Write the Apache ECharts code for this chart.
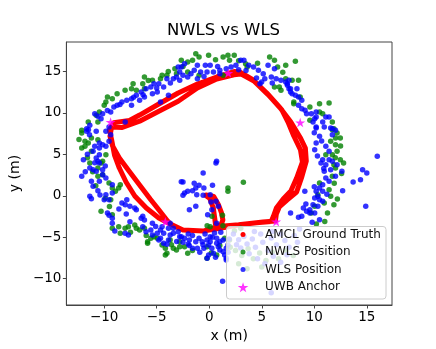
<!DOCTYPE html>
<html><head><meta charset="utf-8">
<script src="https://cdn.jsdelivr.net/npm/echarts@6/dist/echarts.min.js"></script>
<style>html,body{margin:0;padding:0;background:#fff}#c{width:436px;height:349px}</style>
</head><body><div id="c"></div>
<script>
const titleText = 'NWLS vs WLS';
const seriesNames = ['AMCL Ground Truth', 'NWLS Position', 'WLS Position', 'UWB Anchor'];
const xTicks = [-10, -5, 0, 5, 10, 15];
const yTicks = [-10, -5, 0, 5, 10, 15];

const gtPath = [
[-0.30,0.10],[0.43,-0.08],[0.89,-1.11],[1.17,-2.07],[1.30,-2.92],[1.07,-3.64],[-0.58,-4.25],[-2.5,-4.12],[-3.70,-3.40],
[-4.80,-2.68],[-5.99,-1.47],[-7.09,-0.02],[-7.92,1.66],[-8.56,3.35],[-9.02,4.92],[-9.29,6.73],[-9.5,7.9],[-9.1,8.8],
[-7.6,9.1],[-6.63,9.74],[-4.80,11.07],[-2.96,12.40],[-1.13,13.48],[0.71,14.33],[2.36,14.99],[2.9,14.93],[4.19,13.97],[5.48,12.40],[6.76,10.59],
[7.77,8.90],[8.69,6.97],[9.15,5.76],[9.24,4.20],[8.78,2.15],[8.32,0.46],[7.40,-0.51],[6.67,-1.35],[6.39,-2.19],[6.30,-3.04],
[5.11,-3.16],[3.46,-3.40],[2.17,-3.64],[1.16,-3.88],[-0.58,-4.25],[-2.5,-4.12],[-3.70,-3.40],
[-3.97,-3.04],[-4.71,-1.83],[-5.62,-0.39],[-6.63,1.30],[-7.64,2.99],[-8.56,4.56],[-9.20,6.0],[-9.45,7.2],[-9.3,8.3],
[-8.28,8.25],[-6.63,9.0],[-4.80,10.2],[-2.96,11.4],[-1.13,13.0],[0.71,14.09],[2.36,14.6],[3.0,14.7],[4.3,13.8],[5.6,12.2],[6.9,10.4],
[7.50,8.90],[8.05,7.21],[8.69,5.52],[8.87,4.08],[8.32,2.15],[7.77,0.58],[7.04,-0.39],[6.39,-1.47],[6.12,-2.44],[5.9,-3.1],
[4.5,-3.25],[2.8,-3.5],[1.4,-3.65],[0.6,-3.5],[0.52,-2.68],[0.39,-1.47],[0.06,-0.33],[-0.3,0.0]
];

const nwlsPoints = [
[-3.27,15.33],[-3.12,14.73],[-4.49,14.53],[-4.64,14.13],[-5.41,13.93],[-6.17,14.33],[-6.33,13.52],[-7.25,13.52],[-7.4,12.92],[-8.01,12.72],[-8.77,12.32],[-9.69,11.92],[-9.84,11.31],[-10.0,10.92],[-9.23,11.71],[-10.46,10.11],[-10.76,9.71],[-10.6,8.9],[-11.52,8.9],[-12.14,7.9],[-6.94,12.72],[-6.17,12.92],[-4.03,14.53],
[-5.8,13.9],[-3.9,15.0],[-2.5,15.6],[0.6,16.4],[2.8,16.3],[4.6,16.0],[7.0,14.9],
[-1.28,17.14],[-0.06,16.94],[-0.97,16.74],[-1.59,16.34],[-2.05,16.14],[-2.66,16.34],[1.32,16.74],[1.78,16.94],[2.38,16.94],[1.93,16.34],[3.46,15.94],[3.61,15.54],[5.75,16.74],[6.21,16.34],[6.51,15.54],[7.28,15.74],[6.67,13.12],[6.83,12.72],[6.21,13.12],[8.05,11.31],[-2.05,14.93],[-0.97,14.53],[1.32,14.53],
[8.2,16.22],[7.28,14.13],[7.89,13.93],[8.5,13.93],[8.66,11.92],[8.05,11.11],[9.58,10.71],[10.5,11.11],[11.41,11.18],[10.5,10.11],[10.8,9.9],[11.72,8.9],[11.87,8.09],[9.58,9.11],
[11.72,7.97],[12.17,7.57],[12.02,6.97],[12.48,6.97],[12.02,6.17],[12.17,5.37],[11.72,4.96],[12.48,4.35],[12.79,3.96],[11.87,3.75],[12.02,3.35],[11.72,2.35],[11.41,0.74],[11.56,-0.06],[10.95,-0.87],[11.87,-1.07],[11.26,-2.08],[10.5,1.54],[10.34,0.13],[10.04,-1.27],[9.72,-2.08],[11.1,4.96],[11.56,6.57],[11.0,-3.1],[10.2,-3.4],
[12.5,6.0],[12.0,4.6],[12.6,2.7],[11.9,1.5],[12.2,-0.4],
[-12.14,7.57],[-11.83,6.57],[-11.52,6.37],[-11.83,5.97],[-12.14,5.77],[-11.22,6.97],[-10.6,6.77],[-11.22,5.37],[-11.37,3.96],[-10.6,3.35],[-10.3,3.96],[-10.15,2.55],[-10.6,2.35],[-9.54,1.54],[-9.23,0.94],[-8.62,0.94],[-8.47,1.34],[-8.93,0.54],[-9.38,-0.47],[-10.3,-1.87],[-9.23,-2.28],[-9.84,4.96],[-10.15,4.16],
[-12.4,6.8],[-11.6,4.6],[-11.1,2.9],[-10.8,1.2],[-9.9,-0.3],[-9.5,-1.3],
[-9.23,-3.92],[-8.62,-3.73],[-8.47,-4.53],[-8.01,-3.92],[-7.7,-3.73],[-7.09,-3.52],[-6.94,-3.92],[-6.63,-4.13],[-6.17,-3.92],[-5.87,-5.53],[-5.56,-5.13],[-5.26,-4.93],[-4.95,-5.13],[-4.49,-5.93],[-4.18,-6.34],[-4.03,-6.94],[-3.42,-6.34],[-3.12,-6.54],[-2.81,-6.14],[-3.72,-5.33],[-5.87,-5.73],[-4.18,-7.14],[-2.05,-6.94],
[-7.5,-4.4],[-6.0,-4.8],[-3.6,-5.9],[-1.6,-6.6],[0.2,-6.9],[1.0,-6.0],[2.0,-6.2],
[-2.81,-5.53],[-2.35,-6.14],[-0.21,-6.14],[1.47,-5.13],[1.93,-5.33],[-0.21,-7.54],[0.71,-7.14],[0.09,-3.73],[-0.2,-3.6],[1.3,-3.6],[1.26,-2.35],[0.25,-2.47],
[3.25,1.63],[1.78,0.94],[1.78,0.54],
[2.5,-6.6],[3.1,-7.2],[3.7,-6.4],[4.2,-7.6],[4.8,-6.9],[5.4,-7.8],[6.0,-6.8],[6.6,-7.6],[7.3,-6.6],[8.0,-7.2],[2.8,-8.2],[3.6,-8.8],[5.0,-8.6],[2.4,-4.2],[3.0,-3.9]
];

const wlsPoints = [
[-2.96,15.54],[-2.81,14.93],[-3.12,14.33],[-3.42,14.13],[-4.03,14.13],[-4.34,13.12],[-4.8,13.52],[-5.26,13.52],[-5.56,13.12],[-6.02,12.92],[-6.48,12.52],[-6.94,12.12],[-7.4,11.71],[-7.85,11.52],[-8.31,11.31],[-8.77,10.92],[-9.08,10.71],[-9.38,10.11],[-10.15,9.9],[-10.9,9.9],[-10.3,9.3],[-11.37,8.5],[-11.67,8.09],[-8.0,8.9],[-9.54,8.3],[-3.88,12.12],[-4.64,11.31],[-6.17,11.92],[-7.4,10.92],[-6.63,11.52],[-5.41,12.32],[-4.95,12.52],
[-8.5,11.0],[-7.2,11.9],[-6.3,12.2],[-5.0,13.0],[-3.7,13.6],[-9.7,10.3],[-10.6,9.6],
[-2.35,15.94],[-1.13,15.74],[-0.37,15.74],[0.09,15.74],[-1.43,15.14],[-0.82,14.93],[-0.21,14.93],[0.4,14.93],[1.01,15.14],[-2.66,15.54],[-2.5,14.53],[-1.74,14.73],[-2.05,14.33],[-1.13,14.13],[-2.81,13.93],[1.62,15.33],[2.08,15.54],[2.54,15.74],[3.0,16.34],[3.3,16.34],[3.76,15.74],[4.22,15.54],[4.68,15.14],[5.14,14.73],[5.29,14.13],[4.99,13.73],[5.6,15.74],[6.21,15.33],[5.91,14.33],[6.37,14.13],[6.83,13.93],[7.28,13.73],[7.44,13.33],[7.74,12.52],[7.59,12.92],[4.83,13.52],[1.01,14.73],
[2.8,15.2],[3.5,15.1],[0.8,15.6],[-0.5,14.4],[4.5,14.2],[6.0,13.6],
[7.59,13.93],[7.43,13.52],[7.74,12.92],[8.35,12.92],[7.89,12.32],[8.2,12.12],[8.5,11.92],[8.81,11.52],[8.5,10.92],[8.81,10.51],[9.12,10.31],[9.27,9.9],[9.72,9.9],[10.18,10.11],[10.04,9.3],[9.88,8.9],[10.18,8.3],[10.8,8.9],[11.1,9.5],[11.41,9.5],[10.95,8.3],[11.72,8.09],[12.02,7.9],[10.18,9.5],
[10.18,8.18],[10.5,7.18],[10.18,6.37],[10.04,5.56],[11.1,5.97],[11.41,5.37],[11.56,8.18],[11.72,7.37],[10.8,4.35],[10.64,3.96],[11.1,3.75],[11.41,4.35],[11.72,4.16],[12.17,3.75],[12.63,2.95],[10.95,2.95],[11.1,2.15],[11.41,1.75],[10.8,1.34],[10.5,0.94],[10.18,0.54],[10.8,0.54],[10.34,-0.06],[10.04,-0.27],[10.5,-0.47],[10.8,-0.66],[9.88,-1.07],[10.34,-1.27],[9.58,-1.68],[8.96,-1.47],[9.27,-1.87],[9.58,-2.08],[10.04,-2.08],[8.81,-2.47],[8.5,-2.6],[7.74,-2.08],[11.56,3.15],[12.02,2.35],[9.8,-3.2],[10.5,-2.9],
[10.3,4.8],[10.9,3.3],[10.0,1.1],[11.2,0.2],[9.2,-1.0],[10.7,6.6],[10.0,7.6],
[16.0,4.76],[14.6,3.15],[15.0,2.75],[14.4,1.94],[13.7,1.66],[12.7,0.62],[14.9,-1.27],[9.1,0.54],
[0.7,4.16],[0.64,3.96],[-0.58,2.75],[-2.5,1.66],[-0.97,1.27],[-1.28,0.94],[-0.51,0.94],[-1.59,0.62],[-2.05,0.54],[-2.35,0.34],[-2.5,0.06],[-1.19,0.13],[-0.58,0.06],[0.09,0.13],[0.31,1.27],[0.64,-0.66],[0.16,-0.75],[0.86,-1.27],[-1.28,-1.27],[-1.89,-1.68],[0.25,-1.68],[-0.15,-2.28],[-2.66,1.7],[-1.43,1.5],
[-11.67,7.78],[-11.4,7.37],[-9.84,7.78],[-9.38,7.37],[-9.54,6.57],[-10.15,6.17],[-10.46,5.77],[-11.06,5.37],[-10.76,4.56],[-10.46,3.96],[-11.98,4.35],[-11.37,3.35],[-10.76,2.96],[-10.15,2.55],[-12.14,2.35],[-11.22,1.75],[-10.46,1.75],[-9.84,2.15],[-9.23,1.34],[-11.06,1.15],[-10.6,0.62],[-11.37,-0.06],[-11.22,-0.35],[-9.84,0.13],[-10.0,-0.47],[-9.23,0.34],[-9.54,-0.47],[-8.31,-0.87],[-8.0,-1.07],[-7.85,-0.47],[-7.55,-1.27],[-7.09,-1.47],[-6.94,-1.68],[-9.69,-2.07],[-9.54,-2.35],[-6.33,-2.47],[-11.5,7.97],[-10.76,7.78],[-10.46,6.37],[-10.9,5.97],[-9.84,5.97],[-10.46,4.96],[-10.6,4.16],[-11.06,3.15],[-10.15,3.15],
[-11.6,5.0],[-10.9,4.0],[-9.9,3.6],[-11.8,2.9],[-10.4,0.1],[-8.6,-1.6],[-7.9,-2.2],
[-9.23,-2.71],[-9.23,-3.32],[-8.99,-4.25],[-8.01,-4.52],[-7.7,-4.73],[-7.55,-3.12],[-6.48,-2.71],[-6.17,-2.92],[-6.33,-3.73],[-5.41,-3.32],[-5.56,-4.13],[-6.02,-4.33],[-5.41,-4.73],[-4.95,-4.53],[-4.64,-4.13],[-4.49,-3.73],[-4.34,-4.53],[-4.64,-5.13],[-4.8,-5.33],[-4.34,-5.73],[-4.03,-5.85],[-3.88,-5.33],[-3.72,-4.73],[-3.42,-4.53],[-3.42,-3.92],[-2.96,-4.33],[-2.66,-4.93],[-3.88,-3.92],[-3.72,-3.32],
[-5.1,-3.7],[-3.1,-5.5],[-2.0,-5.8],[-0.6,-5.9],[0.3,-5.0],[1.9,-5.2],
[-2.81,-4.93],[-2.35,-5.13],[-1.89,-5.33],[-1.59,-6.34],[-1.28,-5.53],[-0.97,-5.13],[-1.13,-6.34],[-0.67,-5.53],[-0.51,-6.34],[-0.21,-5.33],[-0.06,-5.93],[0.09,-5.53],[0.25,-6.34],[0.4,-6.94],[-0.06,-7.14],[0.71,-5.73],[0.86,-6.14],[1.01,-6.54],[1.32,-6.74],[1.47,-7.14],[1.62,-7.54],[1.62,-6.34],[1.01,-5.53],[1.32,-5.33],[1.78,-5.93],[0.71,-5.13],[0.09,-4.93],[1.27,-10.3],[-0.21,-7.54],[1.62,-7.74],[0.7,-3.3],
[-2.0,-4.6],[-1.6,-4.8],[-0.4,-4.6],[0.5,-4.5],[1.1,-4.4],[-1.9,-6.0],[-0.9,-6.8],[0.6,-7.4],[1.8,-6.8],[-2.5,-5.6],
[2.3,-4.6],[2.8,-5.3],[3.3,-4.9],[3.6,-5.8],[4.1,-5.2],[4.4,-6.2],[4.9,-4.6],[5.1,-5.6],[5.6,-6.6],[5.9,-5.1],[6.4,-5.9],[6.8,-4.6],[7.2,-5.4],[7.6,-6.2],[8.1,-4.8],[8.4,-5.6],[3.0,-6.3],[3.8,-7.0],[4.6,-7.6],[5.3,-8.2],[6.1,-7.3],[6.8,-8.0],[7.4,-7.1],[8.6,-4.0],[5.9,-11.7],[2.6,-5.9],[4.3,-4.3],[6.0,-4.3]
];

const anchorPoints = [[1.81,14.81],[-9.39,8.90],[8.66,8.84],[-4.18,-3.12],[6.37,-3.12]];

const STAR = 'path://M50,0L61.23,34.55L97.55,34.55L68.17,55.9L79.39,90.45L50,69.1L20.61,90.45L31.83,55.9L2.45,34.55L38.77,34.55Z';
const FONT = 'DejaVu Sans';
const fmt = v => (v < 0 ? '\u2212' + Math.abs(v) : String(v));
const axisColor = '#444';

function legendItem(name, icon, left, top, h) {
  return {
    data: [{ name: name, icon: icon }],
    left: left, top: top, padding: 0, orient: 'horizontal',
    itemWidth: 34, itemHeight: h, selectedMode: false, z: 20,
    symbolKeepAspect: true,
    itemStyle: { borderWidth: 0 },
    textStyle: { fontFamily: FONT, fontSize: 12, color: '#111', lineHeight: 12 }
  };
}

const chart = echarts.init(document.getElementById('c'), null, { renderer: 'canvas' });
chart.setOption({
  animation: false,
  title: {
    text: titleText, left: 223.5, textAlign: 'center', top: 22, padding: 0,
    textStyle: { fontFamily: FONT, fontSize: 16.5, fontWeight: 'normal', color: '#000' }
  },
  grid: { left: 54, right: 44, top: 42, bottom: 44, show: true, borderColor: axisColor, borderWidth: 1, containLabel: false },
  xAxis: {
    type: 'value', min: -13.6, max: 17.4,
    name: 'x (m)', nameLocation: 'middle', nameGap: 17,
    nameTextStyle: { fontFamily: FONT, fontSize: 14, color: '#000' },
    axisLine: { show: true, onZero: false, lineStyle: { color: axisColor, width: 1 } },
    axisTick: { show: true, length: 3.5, customValues: xTicks, lineStyle: { color: axisColor } },
    axisLabel: { customValues: xTicks, formatter: fmt, fontFamily: FONT, fontSize: 13.5, color: '#000', margin: 5 },
    splitLine: { show: false }
  },
  yAxis: {
    type: 'value', min: -13.17, max: 18.55,
    name: 'y (m)', nameLocation: 'middle', nameGap: 35, nameRotate: 90,
    nameTextStyle: { fontFamily: FONT, fontSize: 14, color: '#000' },
    axisLine: { show: true, onZero: false, lineStyle: { color: axisColor, width: 1 } },
    axisTick: { show: true, length: 3.5, customValues: yTicks, lineStyle: { color: axisColor } },
    axisLabel: { customValues: yTicks, formatter: fmt, fontFamily: FONT, fontSize: 13.5, color: '#000', margin: 5 },
    splitLine: { show: false }
  },
  legend: [
    legendItem(seriesNames[0], 'circle', 240.5, 228.5, 5),
    legendItem(seriesNames[1], 'circle', 240.5, 246, 5),
    legendItem(seriesNames[2], 'circle', 240.5, 263.5, 5),
    legendItem(seriesNames[3], STAR, 237.8, 281.3, 10)
  ],
  graphic: [{
    type: 'rect', z: 10, silent: true,
    shape: { x: 226.5, y: 226.5, width: 159.5, height: 72.5, r: 3 },
    style: { fill: 'rgba(255,255,255,0.8)', stroke: '#cccccc', lineWidth: 1 }
  }],
  series: [
    {
      name: seriesNames[0], type: 'line', data: gtPath, showSymbol: false, symbol: 'none',
      lineStyle: { color: '#ff0000', width: 5, cap: 'round', join: 'round' },
      itemStyle: { color: '#ff0000' }, z: 2, silent: true, clip: true
    },
    {
      name: seriesNames[1], type: 'scatter', data: nwlsPoints, symbol: 'circle', symbolSize: 5.5,
      itemStyle: { color: '#008000', borderWidth: 0 }, z: 2, silent: true
    },
    {
      name: seriesNames[2], type: 'scatter', data: wlsPoints, symbol: 'circle', symbolSize: 5.5,
      itemStyle: { color: '#0000ff', borderWidth: 0 }, z: 2, silent: true
    },
    {
      name: seriesNames[3], type: 'scatter', data: anchorPoints, symbol: STAR, symbolSize: 10, symbolKeepAspect: true,
      itemStyle: { color: '#ff00ff', borderWidth: 0 }, z: 2, silent: true
    }
  ]
});
</script></body></html>
